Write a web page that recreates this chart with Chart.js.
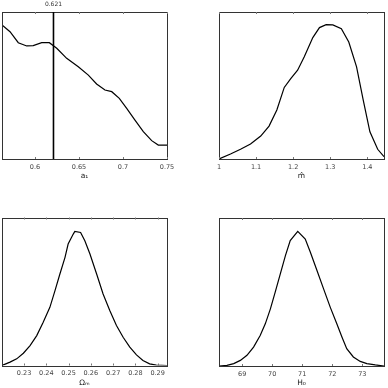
<!DOCTYPE html>
<html>
<head>
<meta charset="utf-8">
<script src="https://cdn.jsdelivr.net/npm/chart.js@4.4.1/dist/chart.umd.min.js"></script>
<style>
  html, body { margin: 0; padding: 0; background: #fff; }
  #wrap { position: relative; width: 388px; height: 388px; }
  .panel { position: absolute; width: 194px; height: 194px; }
</style>
</head>
<body>
<div id="wrap">
  <div class="panel" style="left:0;top:0"><canvas id="c1"></canvas></div>
  <div class="panel" style="left:194px;top:0"><canvas id="c2"></canvas></div>
  <div class="panel" style="left:0;top:194px"><canvas id="c3"></canvas></div>
  <div class="panel" style="left:194px;top:194px"><canvas id="c4"></canvas></div>
</div>
<script>
// a1 marginal
const a1X = [0.5625, 0.5716, 0.581, 0.5906, 0.598, 0.6076, 0.6163, 0.6247, 0.636, 0.6492, 0.6606, 0.670, 0.6795, 0.6872, 0.6958, 0.7042, 0.7136, 0.7231, 0.7326, 0.7401, 0.75];
const a1Y = [0.912, 0.866, 0.791, 0.769, 0.771, 0.791, 0.791, 0.753, 0.685, 0.628, 0.571, 0.510, 0.469, 0.458, 0.413, 0.345, 0.265, 0.186, 0.125, 0.095, 0.095];
const a1Ticks = [0.6, 0.65, 0.7, 0.75];
const a1Cut = 0.621;

// m-hat marginal
const mX = [1.0, 1.031, 1.058, 1.085, 1.1125, 1.135, 1.156, 1.176, 1.194, 1.212, 1.230, 1.253, 1.271, 1.289, 1.307, 1.330, 1.350, 1.371, 1.389, 1.407, 1.428, 1.445];
const mY = [0, 0.034, 0.066, 0.102, 0.156, 0.224, 0.333, 0.487, 0.548, 0.604, 0.695, 0.826, 0.894, 0.914, 0.912, 0.887, 0.796, 0.627, 0.401, 0.185, 0.066, 0.016];
const mTicks = [1, 1.1, 1.2, 1.3, 1.4];

// Omega_m marginal
const omX = [0.2201, 0.2237, 0.2267, 0.2297, 0.2327, 0.2357, 0.2386, 0.2416, 0.2439, 0.2461, 0.2484, 0.2498, 0.2521, 0.2528, 0.2554, 0.2573, 0.2596, 0.2626, 0.2655, 0.2685, 0.2715, 0.2745, 0.2775, 0.2805, 0.2834, 0.2864, 0.2894, 0.2942];
const omY = [0, 0.023, 0.045, 0.083, 0.135, 0.202, 0.292, 0.393, 0.506, 0.618, 0.731, 0.821, 0.888, 0.906, 0.899, 0.843, 0.753, 0.618, 0.483, 0.371, 0.270, 0.191, 0.124, 0.072, 0.034, 0.011, 0.003, 0];
const omTicks = [0.23, 0.24, 0.25, 0.26, 0.27, 0.28, 0.29];

// H0 marginal
const hX = [68.23, 68.495, 68.72, 68.94, 69.16, 69.38, 69.60, 69.77, 69.94, 70.10, 70.27, 70.44, 70.60, 70.85, 71.10, 71.27, 71.49, 71.71, 71.93, 72.15, 72.32, 72.48, 72.70, 72.93, 73.15, 73.43, 73.72];
const hY = [0, 0.004, 0.016, 0.038, 0.072, 0.128, 0.206, 0.285, 0.386, 0.499, 0.622, 0.746, 0.847, 0.910, 0.858, 0.769, 0.645, 0.521, 0.398, 0.285, 0.196, 0.117, 0.061, 0.031, 0.016, 0.007, 0];
const hTicks = [69, 70, 71, 72, 73];

const FONT = "'DejaVu Sans', sans-serif";

// frame with small inward tick marks on top and bottom
const framePlugin = {
  id: "frame",
  afterDraw(chart) {
    const { ctx, chartArea: a, scales } = chart;
    ctx.save();
    ctx.strokeStyle = "#333";
    ctx.lineWidth = 1;
    ctx.strokeRect(Math.round(a.left) + 0.5, Math.round(a.top) + 0.5,
      Math.round(a.right - a.left), Math.round(a.bottom - a.top));
    ctx.strokeStyle = "#777";
    scales.x.ticks.forEach(t => {
      const px = Math.round(scales.x.getPixelForValue(t.value)) + 0.5;
      ctx.beginPath();
      ctx.moveTo(px, a.bottom);
      ctx.lineTo(px, a.bottom - 2);
      ctx.moveTo(px, a.top);
      ctx.lineTo(px, a.top + 2);
      ctx.stroke();
    });
    const cut = chart.options.plugins.frame && chart.options.plugins.frame.cut;
    if (cut !== undefined) {
      const px = scales.x.getPixelForValue(cut);
      ctx.strokeStyle = "#000";
      ctx.lineWidth = 1.6;
      ctx.beginPath();
      ctx.moveTo(px, a.top);
      ctx.lineTo(px, a.bottom);
      ctx.stroke();
      ctx.fillStyle = "#333";
      ctx.font = "6px " + FONT;
      ctx.textAlign = "center";
      ctx.textBaseline = "middle";
      ctx.fillText(String(cut), px, a.top - 8);
    }
    ctx.restore();
  }
};

function makePanel(id, xs, ys, ticks, xmin, xmax, title, pad, cut) {
  const pts = xs.map((x, i) => ({ x: x, y: ys[i] }));
  new Chart(document.getElementById(id), {
    type: "line",
    data: {
      datasets: [{
        data: pts,
        borderColor: "#000",
        borderWidth: 1.2,
        pointRadius: 0,
        tension: 0,
        fill: false
      }]
    },
    options: {
      responsive: true,
      maintainAspectRatio: false,
      animation: false,
      layout: { padding: pad },
      scales: {
        x: {
          type: "linear",
          min: xmin,
          max: xmax,
          afterBuildTicks: s => { s.ticks = ticks.map(v => ({ value: v })); },
          afterFit: s => { s.height = 22; },
          grid: { display: false, drawTicks: false },
          border: { display: false },
          ticks: {
            padding: 4,
            color: "#444",
            font: { family: FONT, size: 6.5 },
            maxRotation: 0,
            autoSkip: false,
            callback: v => String(v)
          },
          title: {
            display: true,
            text: title,
            color: "#222",
            padding: 0,
            font: { family: FONT, size: 7.5 }
          }
        },
        y: { display: false, min: 0, max: 1 }
      },
      plugins: {
        legend: { display: false },
        tooltip: { enabled: false },
        frame: { cut: cut }
      }
    },
    plugins: [framePlugin]
  });
}

makePanel("c1", a1X, a1Y, a1Ticks, 0.5625, 0.75, "a\u2081", { left: 2, right: 27, top: 12, bottom: 13 }, a1Cut);
makePanel("c2", mX, mY, mTicks, 1.0, 1.445, "m\u0302", { left: 25, right: 4, top: 12, bottom: 13 });
makePanel("c3", omX, omY, omTicks, 0.2201, 0.2942, "\u03A9\u2098", { left: 2, right: 27, top: 23.5, bottom: 0.5 });
makePanel("c4", hX, hY, hTicks, 68.23, 73.72, "H\u2080", { left: 25, right: 4, top: 24, bottom: 0 });
</script>
</body>
</html>
